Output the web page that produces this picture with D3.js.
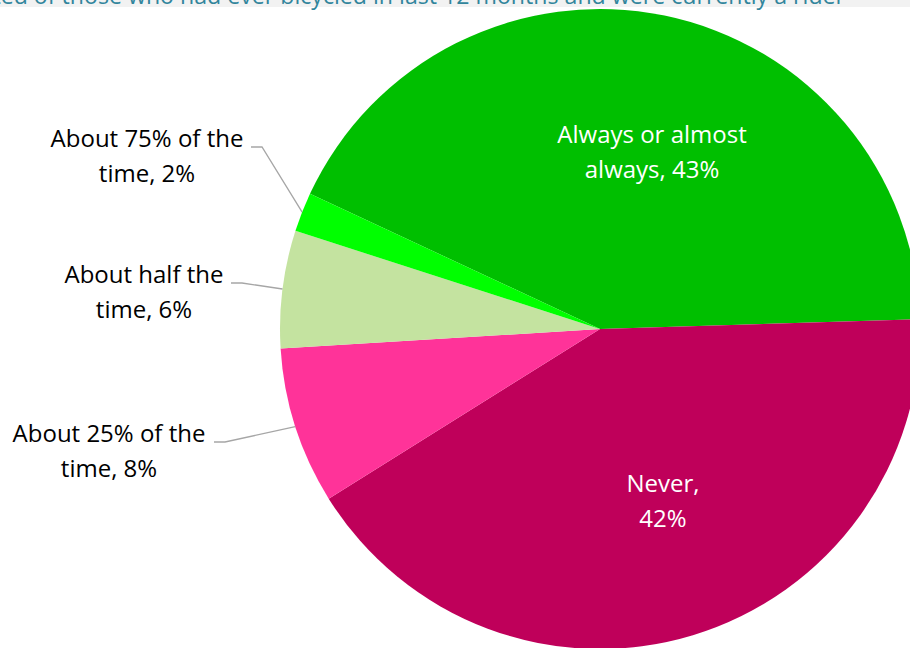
<!DOCTYPE html>
<html>
<head>
<meta charset="utf-8">
<script src="https://cdn.jsdelivr.net/npm/d3@7"></script>
<style>
  html, body { margin: 0; padding: 0; background: #ffffff; overflow: hidden; }
  svg { display: block; }
</style>
</head>
<body>
<svg id="chart" width="910" height="648"></svg>
<script>
// Helmet use frequency among current riders
const categories = [
  "Always or almost always",
  "Never",
  "About 25% of the time",
  "About half the time",
  "About 75% of the time"
];
const values = [43, 42, 8, 6, 2];
const labelLines = [
  ["Always or almost", "always, 43%"],
  ["Never,", "42%"],
  ["About 25% of the", "time, 8%"],
  ["About half the", "time, 6%"],
  ["About 75% of the", "time, 2%"]
];
const colors = ["#00bf00", "#bf005a", "#ff3399", "#c4e3a0", "#00ff00"];
const titlePrefix = "Helmet use report";
const titleSuffix = "ed of those who had ever bicycled in last 12 months and were currently a rider";

const width = 910, height = 648;
const cx = 600, cy = 329, radius = 320;
const font = "'Open Sans', sans-serif";

// Label placement: inside labels sit on the slice, outside labels get a leader line
const labelLayout = [
  { x: 652, y: 143, inside: true },
  { x: 663, y: 492, inside: true },
  { x: 109, y: 442, inside: false, lineStart: 214 },
  { x: 144, y: 283, inside: false, lineStart: 231 },
  { x: 147, y: 147, inside: false, lineStart: 251 }
];

const svg = d3.select("#chart");

// Title band across the top
svg.append("rect")
  .attr("x", 0).attr("y", 0).attr("width", width).attr("height", 7)
  .attr("fill", "#f2f2f2");

const pie = d3.pie()
  .value(d => d)
  .sort(null)
  .startAngle(-65 * Math.PI / 180)
  .endAngle(295 * Math.PI / 180);

const arcs = pie(values);
const arc = d3.arc().innerRadius(0).outerRadius(radius);

const g = svg.append("g").attr("transform", `translate(${cx},${cy})`);

g.selectAll("path.slice")
  .data(arcs)
  .join("path")
  .attr("class", "slice")
  .attr("d", arc)
  .attr("fill", (d, i) => colors[i]);

// Leader lines for the small slices
arcs.forEach((a, i) => {
  const L = labelLayout[i];
  if (L.inside) return;
  const mid = (a.startAngle + a.endAngle) / 2;
  const ex = cx + radius * Math.sin(mid);
  const ey = cy - radius * Math.cos(mid);
  svg.append("polyline")
    .attr("points", `${L.lineStart},${L.y} ${L.lineStart + 11},${L.y} ${ex},${ey}`)
    .attr("fill", "none")
    .attr("stroke", "#a6a6a6")
    .attr("stroke-width", 1.3);
});

// Slice labels
arcs.forEach((a, i) => {
  const L = labelLayout[i];
  const t = svg.append("text")
    .attr("text-anchor", "middle")
    .attr("font-family", font)
    .attr("font-size", 24)
    .attr("fill", L.inside ? "#ffffff" : "#000000");
  labelLines[i].forEach((line, k) => {
    t.append("tspan")
      .attr("x", L.x)
      .attr("y", L.y + k * 34.5)
      .text(line);
  });
});

// Title: its tail runs along the top band, the head lies beyond the left edge
const probe = svg.append("text")
  .attr("font-family", font).attr("font-size", 20)
  .text(titleSuffix);
const suffixW = probe.node().getComputedTextLength();
probe.remove();
const titleSize = 20 * 845 / suffixW;

svg.append("text")
  .attr("x", 845).attr("y", 4)
  .attr("text-anchor", "end")
  .attr("font-family", font)
  .attr("font-size", titleSize)
  .attr("fill", "#31859c")
  .text(titlePrefix + titleSuffix);
</script>
</body>
</html>
